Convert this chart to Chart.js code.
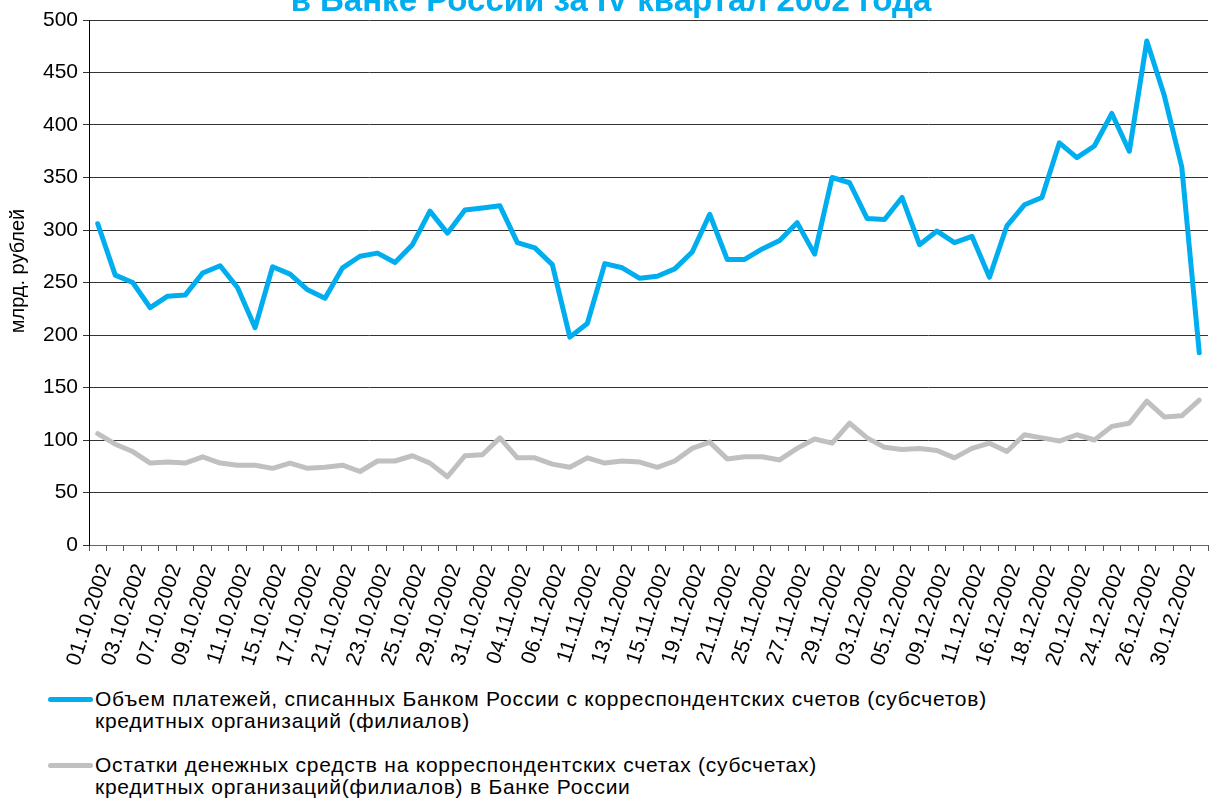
<!DOCTYPE html>
<html><head><meta charset="utf-8">
<script src="https://cdn.jsdelivr.net/npm/chart.js@4"></script>
<style>
html,body{margin:0;padding:0;background:#fff;width:1209px;height:801px;overflow:hidden;}
#wrap{position:absolute;left:0;top:0;width:1209px;height:680px;}
.legend-text{position:absolute;left:95px;font-family:"Liberation Sans",Arial,sans-serif;font-size:21px;letter-spacing:0.75px;line-height:22px;color:#000;white-space:nowrap;}
.swatch{position:absolute;left:48px;width:45px;height:5px;border-radius:3px;}
</style></head><body>
<div id="wrap"><canvas id="c" width="1209" height="680"></canvas></div>
<div class="swatch" style="top:697px;background:#00AEEF"></div>
<div class="legend-text" style="top:688px">Объем платежей, списанных Банком России с корреспондентских счетов (субсчетов)<br>кредитных организаций (филиалов)</div>
<div class="swatch" style="top:763px;background:#C0C0C0"></div>
<div class="legend-text" style="top:754px">Остатки денежных средств на корреспондентских счетах (субсчетах)<br>кредитных организаций(филиалов) в Банке России</div>
<script>
const titleText = 'в Банке России за IV квартал 2002 года';
const yAxisTitle = 'млрд. рублей';
const seriesNames = [
  'Объем платежей, списанных Банком России с корреспондентских счетов (субсчетов) кредитных организаций (филиалов)',
  'Остатки денежных средств на корреспондентских счетах (субсчетах) кредитных организаций(филиалов) в Банке России'
];
const categories = [
 '01.10.2002','02.10.2002','03.10.2002','04.10.2002','07.10.2002','08.10.2002','09.10.2002','10.10.2002','11.10.2002','14.10.2002',
 '15.10.2002','16.10.2002','17.10.2002','18.10.2002','21.10.2002','22.10.2002','23.10.2002','24.10.2002','25.10.2002','28.10.2002',
 '29.10.2002','30.10.2002','31.10.2002','01.11.2002','04.11.2002','05.11.2002','06.11.2002','09.11.2002','11.11.2002','12.11.2002',
 '13.11.2002','14.11.2002','15.11.2002','18.11.2002','19.11.2002','20.11.2002','21.11.2002','22.11.2002','25.11.2002','26.11.2002',
 '27.11.2002','28.11.2002','29.11.2002','02.12.2002','03.12.2002','04.12.2002','05.12.2002','06.12.2002','09.12.2002','10.12.2002',
 '11.12.2002','14.12.2002','16.12.2002','17.12.2002','18.12.2002','19.12.2002','20.12.2002','23.12.2002','24.12.2002','25.12.2002',
 '26.12.2002','27.12.2002','30.12.2002','31.12.2002'
];
const payments = [
 306,257,250,226,237,238,259,266,245,207,
 265,258,243,235,264,275,278,269,286,318,
 297,319,321,323,288,283,267,198,211,268,
 264,254,256,263,279,315,272,272,282,290,
 307,277,350,345,311,310,331,286,299,288,
 294,255,304,324,331,383,369,380,411,375,
 480,428,360,183
];
const balances = [
 106,96,89,78,79,78,84,78,76,76,
 73,78,73,74,76,70,80,80,85,78,
 65,85,86,102,83,83,77,74,83,78,
 80,79,74,80,92,98,82,84,84,81,
 92,101,97,116,102,93,91,92,90,83,
 92,97,89,105,102,99,105,100,113,116,
 137,122,123,138
];
const yTicks = {min:0, max:500, step:50};
const FONT = '"Liberation Sans", Arial, sans-serif';

const textPlugin = {
  id:'extraText',
  afterDraw(chart){
    const ctx = chart.ctx;
    ctx.save();
    ctx.font = 'bold 33px ' + FONT;
    ctx.fillStyle = '#00AEEF';
    ctx.textAlign = 'center';
    ctx.textBaseline = 'alphabetic';
    ctx.fillText(titleText, 611, 11);
    ctx.restore();
    ctx.save();
    ctx.font = '20px ' + FONT;
    ctx.fillStyle = '#000';
    ctx.textAlign = 'center';
    ctx.textBaseline = 'middle';
    ctx.translate(18, 271);
    ctx.rotate(-Math.PI/2);
    ctx.fillText(yAxisTitle, 0, 0);
    ctx.restore();
  }
};

const zeroPad = (s)=>{ s.paddingLeft = 0; s.paddingRight = 0; s.paddingTop = 0; s.paddingBottom = 0; };

new Chart(document.getElementById('c'), {
  type:'line',
  data:{
    labels:categories,
    datasets:[
      {label:seriesNames[0], data:payments, borderColor:'#00AEEF', borderWidth:5, pointRadius:0, tension:0, borderJoinStyle:'round', borderCapStyle:'round'},
      {label:seriesNames[1], data:balances, borderColor:'#C0C0C0', borderWidth:5, pointRadius:0, tension:0, borderJoinStyle:'round', borderCapStyle:'round'}
    ]
  },
  options:{
    responsive:false, animation:false,
    layout:{padding:{top:20,right:1,left:0,bottom:0}},
    plugins:{legend:{display:false}, title:{display:false}, tooltip:{enabled:false}},
    scales:{
      x:{
        type:'category', offset:true,
        grid:{display:true, drawOnChartArea:false, offset:true, tickLength:6, color:'#555'},
        border:{color:'#666', width:1},
        ticks:{autoSkip:false, minRotation:72, maxRotation:72, color:'#000', padding:10, labelOffset:8,
          font:{family:FONT, size:21},
          callback:(v,i)=> i%2===0 ? categories[i] : ''},
        afterFit:(s)=>{ s.height = 135; zeroPad(s); }
      },
      y:{
        min:yTicks.min, max:yTicks.max,
        ticks:{stepSize:yTicks.step, color:'#000', padding:5, font:{family:FONT, size:21}},
        grid:{color:'#333', tickLength:6},
        border:{color:'#000', width:1},
        title:{display:false},
        afterFit:(s)=>{ s.width = 89; zeroPad(s); }
      }
    }
  },
  plugins:[textPlugin]
});
</script>
</body></html>
